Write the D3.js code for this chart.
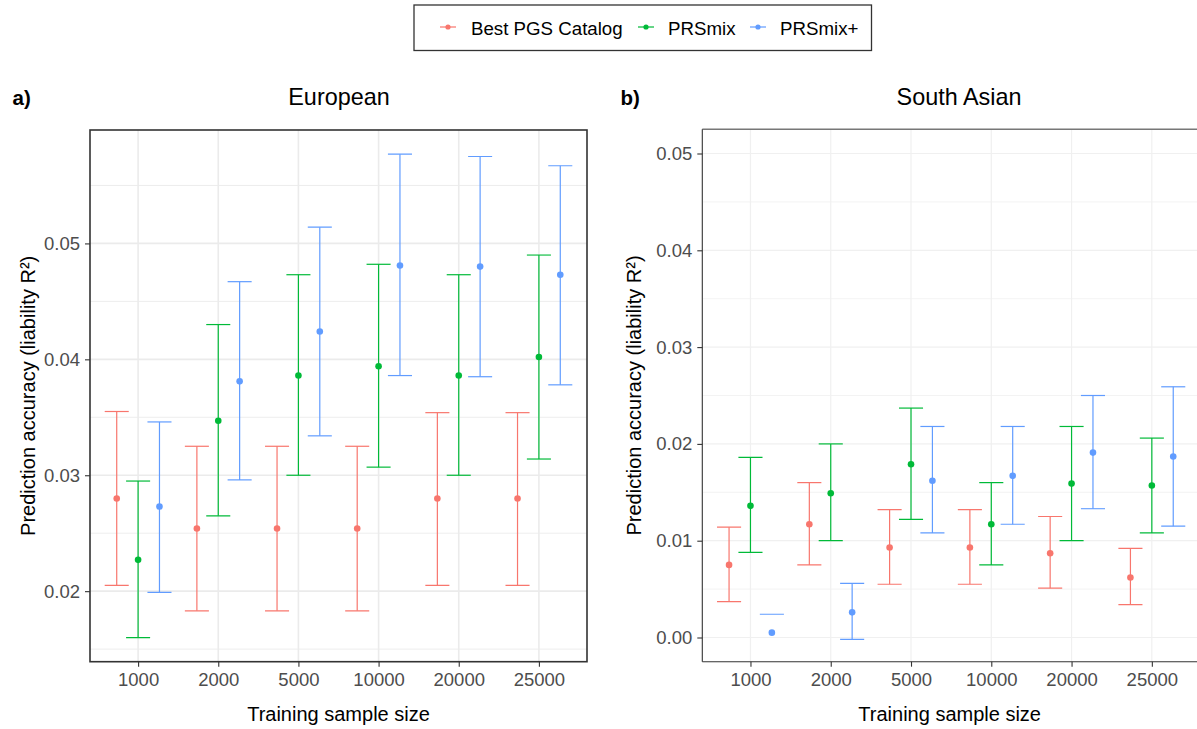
<!DOCTYPE html>
<html>
<head>
<meta charset="utf-8">
<script src="https://cdn.jsdelivr.net/npm/d3@7"></script>
<style>
  body { margin: 0; background: #fff; }
  svg { display: block; font-family: "Liberation Sans", Arial, Helvetica, sans-serif; }
</style>
</head>
<body>
<div id="container"></div>
<script>
// training sample sizes (x categories)
var sizes = ["1000", "2000", "5000", "10000", "20000", "25000"]
var methods = ["Best PGS Catalog", "PRSmix", "PRSmix+"]
var colors = ["#F8766D", "#00BA38", "#619CFF"]

// European: estimate, lower, upper per method
var eur_est = [
    [0.0280, 0.0254, 0.0254, 0.0254, 0.0280, 0.0280],
    [0.0227, 0.0347, 0.0386, 0.0394, 0.0386, 0.0402],
    [0.0273, 0.0381, 0.0424, 0.0481, 0.0480, 0.0473]
]
var eur_low = [
    [0.0205, 0.0183, 0.0183, 0.0183, 0.0205, 0.0205],
    [0.0160, 0.0265, 0.0300, 0.0307, 0.0300, 0.0314],
    [0.0199, 0.0296, 0.0334, 0.0386, 0.0385, 0.0378]
]
var eur_high = [
    [0.0355, 0.0325, 0.0325, 0.0325, 0.0354, 0.0354],
    [0.0295, 0.0430, 0.0473, 0.0482, 0.0473, 0.0490],
    [0.0346, 0.0467, 0.0514, 0.0577, 0.0575, 0.0567]
]

// South Asian (lower bound of PRSmix+ at 1000 falls outside the axis limits)
var sas_est = [
    [0.0075, 0.0117, 0.0093, 0.0093, 0.0087, 0.0062],
    [0.0136, 0.0149, 0.0179, 0.0117, 0.0159, 0.0157],
    [0.0005, 0.0026, 0.0162, 0.0167, 0.0191, 0.0187]
]
var sas_low = [
    [0.0037, 0.0075, 0.0055, 0.0055, 0.0051, 0.0034],
    [0.0088, 0.0100, 0.0122, 0.0075, 0.0100, 0.0108],
    [null, -0.0002, 0.0108, 0.0117, 0.0133, 0.0115]
]
var sas_high = [
    [0.0114, 0.0160, 0.0132, 0.0132, 0.0125, 0.0092],
    [0.0186, 0.0200, 0.0237, 0.0160, 0.0218, 0.0206],
    [0.0024, 0.0056, 0.0218, 0.0218, 0.0250, 0.0259]
]

var eur_ticks = [0.02, 0.03, 0.04, 0.05]
var eur_minor = [0.015, 0.025, 0.035, 0.045, 0.055]
var sas_ticks = [0.00, 0.01, 0.02, 0.03, 0.04, 0.05]
var sas_minor = [0.005, 0.015, 0.025, 0.035, 0.045]

const W = 1197, H = 729
const svg = d3.select("#container").append("svg")
    .attr("width", W)
    .attr("height", H)

function to_rows(est, low, high) {
    var rows = []
    methods.forEach((m, mi) => {
        sizes.forEach((s, si) => {
            rows.push({method: m, mi: mi, size: s, est: est[mi][si], low: low[mi][si], high: high[mi][si]})
        })
    })
    return rows
}

function draw_panel(opts) {
    const {left, right, top, bottom, rows, domain, ticks, minor, tag, tagX, title, titleX, ylabX, framed} = opts
    const g = svg.append("g")

    const x = d3.scalePoint()
        .domain(sizes)
        .range([left, right])
        .padding(0.6)
    const step = x.step()
    const dodge = d3.scalePoint()
        .domain(methods)
        .range([-step * 0.8 / 3, step * 0.8 / 3])
    const capW = step * 0.3

    const y = d3.scaleLinear()
        .domain(domain)
        .range([bottom, top])

    // clip grid to panel
    const clipId = "clip" + tag.replace(/\W/g, "")
    svg.append("clipPath").attr("id", clipId)
        .append("rect")
        .attr("x", left).attr("y", top)
        .attr("width", right - left).attr("height", bottom - top)

    const grid = g.append("g").attr("clip-path", `url(#${clipId})`)
    const gridCol = framed ? "#EBEBEB" : "#F0F0F0"
    grid.selectAll(".minor").data(minor).enter().append("line")
        .attr("x1", left).attr("x2", right)
        .attr("y1", d => y(d)).attr("y2", d => y(d))
        .attr("stroke", gridCol).attr("stroke-width", framed ? 0.9 : 0.8)
    grid.selectAll(".major").data(ticks).enter().append("line")
        .attr("x1", left).attr("x2", right)
        .attr("y1", d => y(d)).attr("y2", d => y(d))
        .attr("stroke", gridCol).attr("stroke-width", framed ? 1.6 : 1.2)
    grid.selectAll(".vmajor").data(sizes).enter().append("line")
        .attr("x1", d => x(d)).attr("x2", d => x(d))
        .attr("y1", top).attr("y2", bottom)
        .attr("stroke", gridCol).attr("stroke-width", framed ? 1.6 : 1.2)

    // error bars
    const bars = g.append("g").attr("clip-path", `url(#${clipId})`)
        .selectAll("g").data(rows).enter().append("g")
        .attr("stroke", d => colors[d.mi])
        .attr("stroke-width", 1.2)
        .attr("fill", "none")
    bars.append("line")
        .attr("x1", d => x(d.size) + dodge(d.method) - capW / 2)
        .attr("x2", d => x(d.size) + dodge(d.method) + capW / 2)
        .attr("y1", d => y(d.high)).attr("y2", d => y(d.high))
    bars.filter(d => d.low !== null).append("line")
        .attr("x1", d => x(d.size) + dodge(d.method))
        .attr("x2", d => x(d.size) + dodge(d.method))
        .attr("y1", d => y(d.high)).attr("y2", d => y(d.low))
    bars.filter(d => d.low !== null).append("line")
        .attr("x1", d => x(d.size) + dodge(d.method) - capW / 2)
        .attr("x2", d => x(d.size) + dodge(d.method) + capW / 2)
        .attr("y1", d => y(d.low)).attr("y2", d => y(d.low))
    g.append("g").selectAll("circle").data(rows).enter().append("circle")
        .attr("cx", d => x(d.size) + dodge(d.method))
        .attr("cy", d => y(d.est))
        .attr("r", 3.3)
        .attr("fill", d => colors[d.mi])

    // panel frame
    if (framed) {
        g.append("rect")
            .attr("x", left).attr("y", top)
            .attr("width", right - left).attr("height", bottom - top)
            .attr("fill", "none").attr("stroke", "#333").attr("stroke-width", 1.6)
    } else {
        g.append("line").attr("x1", left).attr("x2", right + 5)
            .attr("y1", top).attr("y2", top)
            .attr("stroke", "#777").attr("stroke-width", 1.6)
        g.append("line").attr("x1", left).attr("x2", left)
            .attr("y1", top).attr("y2", bottom)
            .attr("stroke", "#333").attr("stroke-width", 1.1)
        g.append("line").attr("x1", left).attr("x2", right + 5)
            .attr("y1", bottom).attr("y2", bottom)
            .attr("stroke", "#333").attr("stroke-width", 1.1)
    }

    // axes
    const ya = g.append("g")
        .attr("transform", `translate(${left},0)`)
        .call(d3.axisLeft(y).tickValues(ticks).tickFormat(d3.format(".2f")).tickSize(5).tickPadding(5))
    const xa = g.append("g")
        .attr("transform", `translate(0,${bottom})`)
        .call(d3.axisBottom(x).tickSize(5).tickPadding(6))
    ;[ya, xa].forEach(a => {
        a.select(".domain").remove()
        a.selectAll(".tick line").attr("stroke", "#333").attr("stroke-width", 1.1)
        a.selectAll(".tick text")
            .attr("fill", "#4D4D4D")
            .style("font-size", "18.5px")
            .style("font-family", "'Liberation Sans', Arial, sans-serif")
    })

    // titles
    g.append("text")
        .attr("x", tagX).attr("y", 104.5)
        .style("font-size", "20.5px").style("font-weight", "bold")
        .text(tag)
    g.append("text")
        .attr("x", titleX).attr("y", 104.5)
        .attr("text-anchor", "middle")
        .style("font-size", "23.4px")
        .text(title)
    g.append("text")
        .attr("x", (left + Math.min(right, W)) / 2 + (framed ? 0 : 0))
        .attr("y", 721)
        .attr("text-anchor", "middle")
        .style("font-size", "20px")
        .text("Training sample size")
    g.append("text")
        .attr("transform", `translate(${ylabX},${(top + bottom) / 2}) rotate(-90)`)
        .attr("text-anchor", "middle")
        .style("font-size", "20px")
        .text("Prediction accuracy (liability R²)")
}

// European panel: y range from data with 5% expansion
var eur_min = d3.min(eur_low.flat()), eur_max = d3.max(eur_high.flat())
var eur_pad = (eur_max - eur_min) * 0.05
draw_panel({
    left: 90, right: 587, top: 130, bottom: 661.7,
    rows: to_rows(eur_est, eur_low, eur_high),
    domain: [eur_min - eur_pad, eur_max + eur_pad],
    ticks: eur_ticks, minor: eur_minor,
    tag: "a)", tagX: 12.5, title: "European", titleX: 339,
    ylabX: 35, framed: true
})

// South Asian panel: limits 0 - 0.05 with 5% expansion
draw_panel({
    left: 702.3, right: 1200, top: 129.3, bottom: 661.7,
    rows: to_rows(sas_est, sas_low, sas_high),
    domain: [-0.0025, 0.0525],
    ticks: sas_ticks, minor: sas_minor,
    tag: "b)", tagX: 620.5, title: "South Asian", titleX: 959,
    ylabX: 641, framed: false
})

// legend
const legend = svg.append("g")
legend.append("rect")
    .attr("x", 414).attr("y", 5)
    .attr("width", 457.5).attr("height", 45.5)
    .attr("fill", "#fff").attr("stroke", "#333").attr("stroke-width", 1.3)
var legendX = [440, 638, 750]
methods.forEach((m, i) => {
    const lg = legend.append("g").attr("transform", `translate(${legendX[i]},27)`)
    lg.append("line").attr("x1", 0).attr("x2", 16).attr("y1", 0).attr("y2", 0)
        .attr("stroke", colors[i]).attr("stroke-width", 1.2)
    lg.append("circle").attr("cx", 8).attr("cy", 0).attr("r", 2.6).attr("fill", colors[i])
    lg.append("text").attr("x", legendX[i] === 440 ? 31 : 30).attr("y", 7.5)
        .style("font-size", "18.7px")
        .text(m)
})
</script>
</body>
</html>
